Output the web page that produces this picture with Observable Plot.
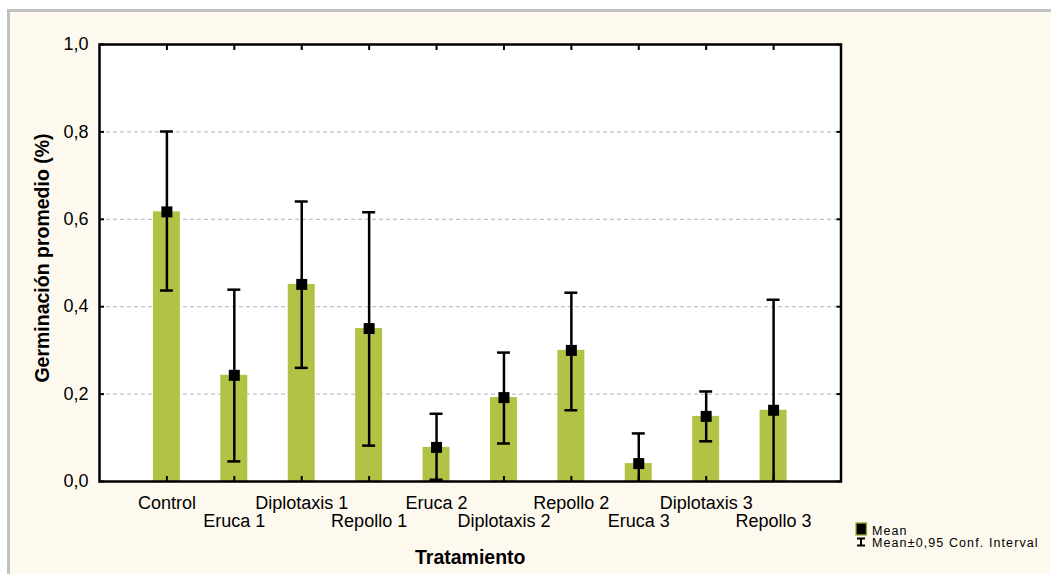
<!DOCTYPE html>
<html><head><meta charset="utf-8">
<script src="https://cdn.jsdelivr.net/npm/d3@7"></script>
<script src="https://cdn.jsdelivr.net/npm/@observablehq/plot@0.6"></script>
<style>
html,body{margin:0;padding:0;background:#fff;}
#wrap{position:relative;width:1051px;height:574px;overflow:hidden;}
#bg{position:absolute;left:7px;top:9px;right:0;bottom:0;background:#fef9ee;border-top:3px solid #c0c0c0;border-left:3px solid #c0c0c0;}
#chart{position:absolute;left:0;top:0;}
#legend{position:absolute;left:0;top:0;}
</style></head><body>
<div id="wrap"><div id="bg"></div><div id="chart"></div>
<svg id="legend" width="1051" height="574" xmlns="http://www.w3.org/2000/svg" font-family="Liberation Sans, Arial, sans-serif">
  <rect x="856" y="523" width="10.5" height="12" fill="#000" stroke="#9aaa30" stroke-width="1.3"/>
  <text x="872" y="534.5" font-size="12.5" letter-spacing="1.1" fill="#000">Mean</text>
  <path d="M857,538.5H865M861,538.5V545.5M857,545.5H865" stroke="#000" stroke-width="2" fill="none"/>
  <text x="872" y="546.5" font-size="12.5" letter-spacing="1.1" fill="#000">Mean±0,95 Conf. Interval</text>
</svg>
</div>
<script>
const categories = ["Control","Eruca 1","Diplotaxis 1","Repollo 1","Eruca 2","Diplotaxis 2","Repollo 2","Eruca 3","Diplotaxis 3","Repollo 3"];
const means = [0.617,0.243,0.451,0.350,0.078,0.192,0.300,0.041,0.149,0.163];
const lower = [0.437,0.046,0.260,0.082,0.004,0.087,0.163,-0.028,0.092,-0.09];
const upper = [0.801,0.439,0.641,0.616,0.155,0.295,0.432,0.110,0.206,0.416];
const yTicks = [0,0.2,0.4,0.6,0.8,1.0];
const gridTicks = [0.2,0.4,0.6,0.8];

const data = categories.map((c,i)=>({cat:c, mean:means[i], lo:lower[i], hi:upper[i]}));
const fmt = d => d.toFixed(1).replace(".", ",");
const font = "'Liberation Sans', Arial, sans-serif";

const plot = Plot.plot({
  width:1051, height:574,
  marginLeft:99, marginRight:210.5, marginTop:44, marginBottom:93,
  style:{background:"transparent", fontFamily:font, color:"#000"},
  x:{type:"band", domain:categories, paddingInner:0.6, paddingOuter:0.8, align:0.5, round:false, axis:null},
  y:{domain:[0,1], axis:null},
  marks:[
    Plot.frame({fill:"white", stroke:null}),
    Plot.gridY(gridTicks, {stroke:"#b4b4b4", strokeOpacity:1, strokeDasharray:"4,3", strokeWidth:1}),
    Plot.barY(data, {x:"cat", y:"mean", fill:"#b2c244"}),
    Plot.ruleX(data, {x:"cat", y1:"lo", y2:"hi", stroke:"#000", strokeWidth:2.5, clip:true}),
    Plot.tickY(data, {x:"cat", y:"hi", stroke:"#000", strokeWidth:2.5, insetLeft:7, insetRight:7, clip:true}),
    Plot.tickY(data, {x:"cat", y:"lo", stroke:"#000", strokeWidth:2.5, insetLeft:7, insetRight:7, clip:true}),
    Plot.dot(data, {x:"cat", y:"mean", symbol:"square", r:6.2, fill:"#000", stroke:null}),
    // axis labels
    Plot.axisY(yTicks, {anchor:"left", tickSize:0, tickPadding:11, fontSize:18, tickFormat:fmt, label:null}),
    Plot.axisX(categories, {anchor:"bottom", tickSize:0, tickPadding:14.5, fontSize:18, lineHeight:1,
      tickFormat: d => categories.indexOf(d) % 2 ? "\n" + d : d, label:null}),
    // inward ticks
    Plot.axisY(yTicks, {anchor:"left", tickSize:5, insetLeft:5, strokeWidth:2, tickFormat:()=>"", label:null}),
    Plot.axisY(yTicks, {anchor:"right", tickSize:5, insetRight:5, strokeWidth:2, tickFormat:()=>"", label:null}),
    Plot.axisX(categories, {anchor:"bottom", tickSize:5, insetBottom:5, strokeWidth:2, tickFormat:()=>"", label:null}),
    Plot.axisX(categories, {anchor:"top", tickSize:5, insetTop:5, strokeWidth:2, tickFormat:()=>"", label:null}),
    // titles
    Plot.text(["Germinación promedio (%)"], {text:d=>d, frameAnchor:"left", dx:-57, dy:-5, rotate:-90,
      textAnchor:"middle", lineAnchor:"middle", fontSize:19.5, fontWeight:"bold"}),
    Plot.text(["Tratamiento"], {text:d=>d, frameAnchor:"bottom", dy:75.8,
      textAnchor:"middle", lineAnchor:"middle", fontSize:19.5, fontWeight:"bold"}),
    Plot.frame({stroke:"#000", strokeWidth:2.5})
  ]
});
document.getElementById("chart").appendChild(plot);
</script>
</body></html>
